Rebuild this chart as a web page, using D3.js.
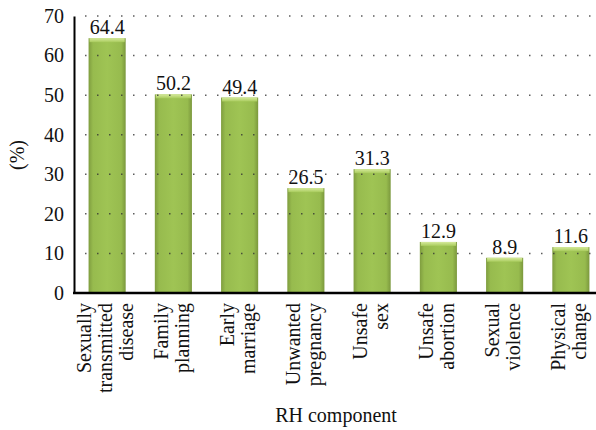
<!DOCTYPE html>
<html>
<head>
<meta charset="utf-8">
<script src="https://cdn.jsdelivr.net/npm/d3@7"></script>
<style>
  body { margin: 0; background: #fff; }
  text { font-family: "Liberation Serif"; }
</style>
</head>
<body>
<svg id="chart" width="596" height="430"></svg>
<script>
// data
var categories = [
  ["Sexually", "transmitted", "disease"],
  ["Family", "planning"],
  ["Early", "marriage"],
  ["Unwanted", "pregnancy"],
  ["Unsafe", "sex"],
  ["Unsafe", "abortion"],
  ["Sexual", "violence"],
  ["Physical", "change"]
];
var values = [64.4, 50.2, 49.4, 26.5, 31.3, 12.9, 8.9, 11.6];
var yTicks = [0, 10, 20, 30, 40, 50, 60, 70];

var plotLeft = 74, plotRight = 604, plotTop = 16, plotBottom = 293;
var fontSize = 20;

var svg = d3.select("#chart");

var x = d3.scaleBand()
  .domain(categories.map(function(d, i) { return i; }))
  .range([plotLeft, plotRight])
  .paddingInner(0.44)
  .paddingOuter(0.22);

var y = d3.scaleLinear().domain([0, 70]).range([plotBottom, plotTop]);

// bar gradient (beveled green look)
var defs = svg.append("defs");
var grad = defs.append("linearGradient").attr("id", "barGrad")
  .attr("x1", "0").attr("x2", "1").attr("y1", "0").attr("y2", "0");
grad.append("stop").attr("offset", "0").attr("stop-color", "#7f9d3f");
grad.append("stop").attr("offset", "0.12").attr("stop-color", "#97bb4e");
grad.append("stop").attr("offset", "0.5").attr("stop-color", "#9fc454");
grad.append("stop").attr("offset", "0.88").attr("stop-color", "#97bb4e");
grad.append("stop").attr("offset", "1").attr("stop-color", "#7b983d");

var topGrad = defs.append("linearGradient").attr("id", "topGrad")
  .attr("x1", "0").attr("x2", "0").attr("y1", "0").attr("y2", "1");
topGrad.append("stop").attr("offset", "0").attr("stop-color", "#d6ea9c");
topGrad.append("stop").attr("offset", "1").attr("stop-color", "#a8cb5c");

// bars
var bars = svg.append("g");
bars.selectAll("rect.bar")
  .data(values)
  .enter().append("rect")
  .attr("class", "bar")
  .attr("x", function(d, i) { return x(i); })
  .attr("y", function(d) { return y(d); })
  .attr("width", x.bandwidth())
  .attr("height", function(d) { return plotBottom - y(d); })
  .attr("fill", "url(#barGrad)");

// light bevel on top of each bar
bars.selectAll("rect.cap")
  .data(values)
  .enter().append("rect")
  .attr("class", "cap")
  .attr("x", function(d, i) { return x(i) + 1; })
  .attr("y", function(d) { return y(d); })
  .attr("width", x.bandwidth() - 2)
  .attr("height", 4)
  .attr("fill", "url(#topGrad)");

// dotted grid
svg.append("g").selectAll("line")
  .data(yTicks.filter(function(t) { return t > 0; }))
  .enter().append("line")
  .attr("x1", 85).attr("x2", 596)
  .attr("y1", function(d) { return y(d); })
  .attr("y2", function(d) { return y(d); })
  .attr("stroke", "#333")
  .attr("stroke-opacity", 0.8)
  .attr("stroke-width", 1.5)
  .attr("stroke-dasharray", "1.5 10.5");

// value labels
svg.append("g").selectAll("text")
  .data(values)
  .enter().append("text")
  .attr("x", function(d, i) { return x(i) + x.bandwidth() / 2; })
  .attr("y", function(d) { return y(d) - 4; })
  .attr("text-anchor", "middle")
  .attr("font-size", fontSize)
  .attr("fill", "#111")
  .text(function(d) { return d.toFixed(1); });

// y axis
var yAxis = svg.append("g")
  .attr("transform", "translate(" + plotLeft + ",0)")
  .call(d3.axisLeft(y).tickValues(yTicks).tickSize(0).tickPadding(10));
yAxis.attr("font-family", "Liberation Serif").attr("font-size", fontSize);
yAxis.select(".domain").attr("stroke", "#000").attr("stroke-width", 2);
yAxis.selectAll("text").attr("fill", "#111");

// x axis line
svg.append("line")
  .attr("x1", plotLeft - 1).attr("x2", 596)
  .attr("y1", plotBottom).attr("y2", plotBottom)
  .attr("stroke", "#000").attr("stroke-width", 2.5);

// category labels, rotated, lines stacked around band center
var lineGap = 21;
var cat = svg.append("g").selectAll("text")
  .data(categories)
  .enter().append("text")
  .attr("text-anchor", "end")
  .attr("font-size", fontSize)
  .attr("fill", "#111")
  .attr("transform", function(d, i) {
    var cx = x(i) + x.bandwidth() / 2;
    return "translate(" + cx + ",303) rotate(-90)";
  });
cat.selectAll("tspan")
  .data(function(d) { return d.map(function(s, k) { return {s: s, k: k, n: d.length}; }); })
  .enter().append("tspan")
  .attr("x", 0)
  .attr("y", function(t) { return (t.k - (t.n - 1) / 2) * lineGap + 5; })
  .text(function(t) { return t.s; });

// axis titles
svg.append("text")
  .attr("x", 336).attr("y", 422)
  .attr("text-anchor", "middle")
  .attr("font-size", fontSize)
  .attr("fill", "#111")
  .text("RH component");

svg.append("text")
  .attr("transform", "translate(24,155) rotate(-90)")
  .attr("text-anchor", "middle")
  .attr("font-size", fontSize)
  .attr("fill", "#111")
  .text("(%)");
</script>
</body>
</html>
